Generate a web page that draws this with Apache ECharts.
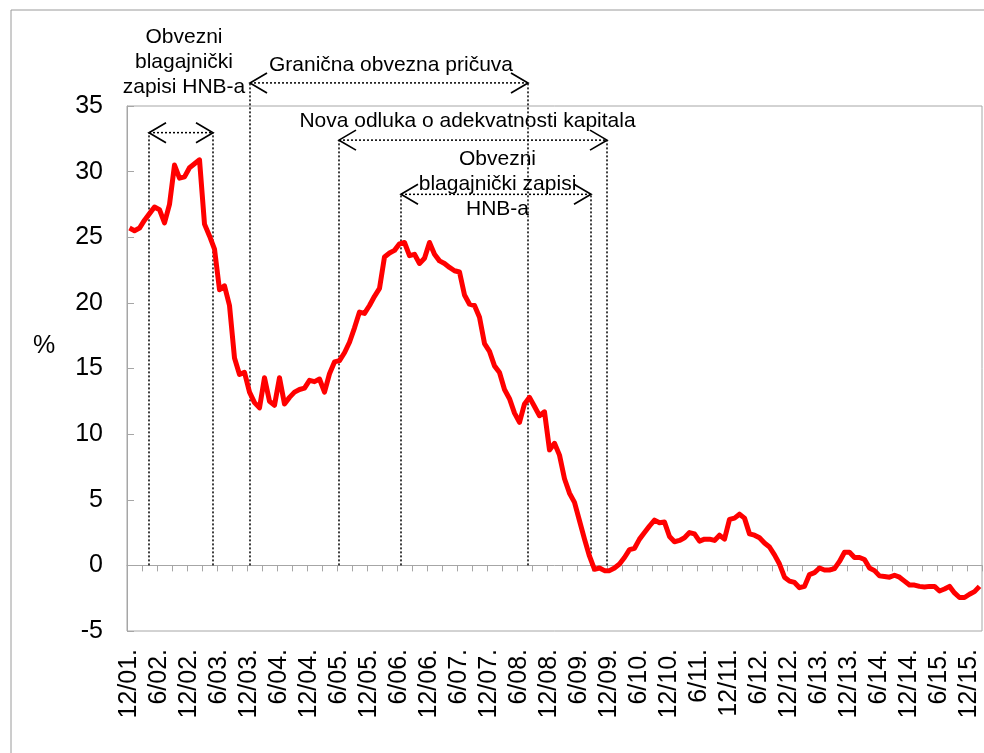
<!DOCTYPE html>
<html>
<head>
<meta charset="utf-8">
<script src="https://cdn.jsdelivr.net/npm/echarts@6/dist/echarts.min.js"></script>
<style>
  html, body { margin: 0; padding: 0; background: #fff; }
  #chart { width: 984px; height: 753px; }
</style>
</head>
<body>
<div id="chart"></div>
<script>
// ---- DATA ----
// Monthly categories from 12/01 to 2/16 (labels shown every 6 months)
const categories = [];
for (let k = 0; k < 171; k++) {
  const m = (11 + k) % 12 + 1;
  const yy = 1 + Math.floor((11 + k) / 12);
  categories.push(m + '/' + String(yy).padStart(2, '0') + '.');
}

// Annual growth rate, %
const values = [
  25.7, 25.5, 25.7, 26.3, 26.8, 27.3, 27.1, 26.1, 27.5, 30.5,
  29.5, 29.6, 30.3, 30.6, 30.9, 26.0, 25.1, 24.1, 21.0, 21.3,
  19.8, 15.8, 14.55, 14.7, 13.2, 12.4, 12.0, 14.3, 12.5, 12.2,
  14.3, 12.3, 12.8, 13.2, 13.4, 13.5, 14.1, 14.0, 14.2, 13.2,
  14.6, 15.5, 15.6, 16.2, 17.0, 18.1, 19.3, 19.2, 19.8, 20.5,
  21.1, 23.5, 23.8, 24.0, 24.5, 24.6, 23.6, 23.7, 23.0, 23.4,
  24.6, 23.7, 23.2, 23.0, 22.7, 22.45, 22.35, 20.6, 19.9, 19.8,
  18.9, 16.9, 16.3, 15.2, 14.7, 13.4, 12.7, 11.6, 10.9, 12.3,
  12.8, 12.1, 11.4, 11.7, 8.8, 9.3, 8.4, 6.6, 5.5, 4.8,
  3.4, 2.0, 0.7, -0.3, -0.2, -0.4, -0.4, -0.2, 0.1, 0.6,
  1.2, 1.3, 2.0, 2.5, 3.0, 3.45, 3.25, 3.3, 2.2, 1.8,
  1.9, 2.1, 2.5, 2.4, 1.85, 2.0, 2.0, 1.9, 2.3, 2.0,
  3.5, 3.6, 3.9, 3.6, 2.4, 2.3, 2.1, 1.7, 1.4, 0.8,
  0.1, -0.9, -1.2, -1.3, -1.7, -1.6, -0.7, -0.55, -0.2, -0.35,
  -0.35, -0.25, 0.3, 1.0, 1.0, 0.6, 0.6, 0.45, -0.2, -0.4,
  -0.8, -0.85, -0.9, -0.75, -0.9, -1.2, -1.5, -1.5, -1.6, -1.65,
  -1.6, -1.6, -1.95, -1.8, -1.6, -2.1, -2.45, -2.45, -2.2, -2.0,
  -1.6
];

// Y-axis ticks
const yMin = -5, yMax = 35, yStep = 5;

// Annotation spans: start month index, end month index, arrow level (%)
const spanStart = [3.9, 24.1, 41.9, 54.3];
const spanEnd   = [16.7, 79.7, 95.5, 92.3];
const spanLevel = [32.97, 36.76, 32.4, 28.27];

// Annotation texts and their centres (month index, % level)
const noteTexts = [
  'Obvezni\nblagajnički\nzapisi HNB-a',
  'Granična obvezna pričuva',
  'Nova odluka o adekvatnosti kapitala',
  'Obvezni\nblagajnički zapisi\nHNB-a'
];
const noteX = [10.9, 52.3, 67.6, 73.6];
const noteY = [38.3, 38.1, 33.87, 29.03];

// ---- CHART ----
const FONT = '"Liberation Sans", Arial, sans-serif';
const GREY = '#a6a6a6';
const chart = echarts.init(document.getElementById('chart'), null, { renderer: 'canvas' });

const spanData = spanStart.map((s, i) => [s, spanEnd[i], spanLevel[i]]);
const noteData = noteX.map((x, i) => [x, noteY[i]]);

function dotted(x1, y1, x2, y2) {
  return { type: 'line', shape: { x1, y1, x2, y2 },
    style: { stroke: '#000', lineWidth: 1.5, lineDash: [2, 2] } };
}
function chevron(tipX, tipY, dir) {
  return { type: 'polyline',
    shape: { points: [[tipX + dir * 17, tipY - 10], [tipX, tipY], [tipX + dir * 17, tipY + 10]] },
    style: { stroke: '#000', lineWidth: 1.7, fill: null } };
}

const option = {
  animation: false,
  backgroundColor: '#fff',
  textStyle: { fontFamily: FONT },
  grid: { left: 127, right: 2, top: 106, bottom: 122, show: true, borderColor: GREY, borderWidth: 1, backgroundColor: 'transparent' },
  xAxis: [
    { // zero line with ticks
      type: 'category', data: categories, boundaryGap: true, position: 'bottom',
      axisLine: { onZero: true, lineStyle: { color: GREY, width: 1 } },
      axisTick: { show: true, interval: 2, length: 6, inside: false, lineStyle: { color: GREY } },
      axisLabel: { show: false }, splitLine: { show: false }
    },
    { // labels at the bottom
      type: 'category', data: categories, boundaryGap: true, position: 'bottom',
      axisLine: { show: false, onZero: false }, axisTick: { show: false },
      axisLabel: { show: true, interval: 5, rotate: 90, margin: 18, fontSize: 25, color: '#000', fontFamily: FONT },
      splitLine: { show: false }
    },
    { // hidden linear month axis for annotations
      type: 'value', min: -0.5, max: 170.5, show: false,
      axisLine: { onZero: false }, splitLine: { show: false }
    }
  ],
  yAxis: [{
    type: 'value', min: yMin, max: yMax, interval: yStep,
    axisLine: { show: true, onZero: false, lineStyle: { color: GREY } },
    axisTick: { show: true, inside: true, length: 7, lineStyle: { color: GREY } },
    axisLabel: { fontSize: 25, color: '#000', margin: 24, fontFamily: FONT },
    splitLine: { show: false }
  }],
  graphic: [
    { type: 'rect', shape: { x: 11, y: 10, width: 1000, height: 800 }, style: { stroke: '#9a9a9a', lineWidth: 1, fill: null }, silent: true, z: -10 },
    { type: 'text', x: 44, y: 346, style: { text: '%', font: '25px ' + FONT, fill: '#000', align: 'center', verticalAlign: 'middle' } }
  ],
  series: [
    {
      type: 'custom', xAxisIndex: 2, yAxisIndex: 0, clip: false, z: 1,
      data: spanData, silent: true,
      renderItem: function (params, api) {
        const x1 = api.value(0), x2 = api.value(1), lv = api.value(2);
        const a0 = api.coord([x1, 0]), a1 = api.coord([x1, lv]);
        const b0 = api.coord([x2, 0]), b1 = api.coord([x2, lv]);
        return { type: 'group', children: [
          dotted(a0[0], a0[1], a1[0], a1[1]),
          dotted(b0[0], b0[1], b1[0], b1[1]),
          dotted(a1[0], a1[1], b1[0], b1[1]),
          chevron(a1[0], a1[1], 1),
          chevron(b1[0], b1[1], -1)
        ] };
      }
    },
    {
      type: 'custom', xAxisIndex: 2, yAxisIndex: 0, clip: false, z: 2,
      data: noteData, silent: true,
      renderItem: function (params, api) {
        const p = api.coord([api.value(0), api.value(1)]);
        return { type: 'text', x: p[0], y: p[1],
          style: { text: noteTexts[params.dataIndex], font: '21px ' + FONT, fill: '#000',
            align: 'center', verticalAlign: 'middle', lineHeight: 25 } };
      }
    },
    {
      type: 'line', xAxisIndex: 0, yAxisIndex: 0, data: values, z: 5,
      symbol: 'none', smooth: false,
      lineStyle: { color: '#ff0000', width: 5, join: 'round' }
    }
  ]
};
chart.setOption(option);
</script>
</body>
</html>
